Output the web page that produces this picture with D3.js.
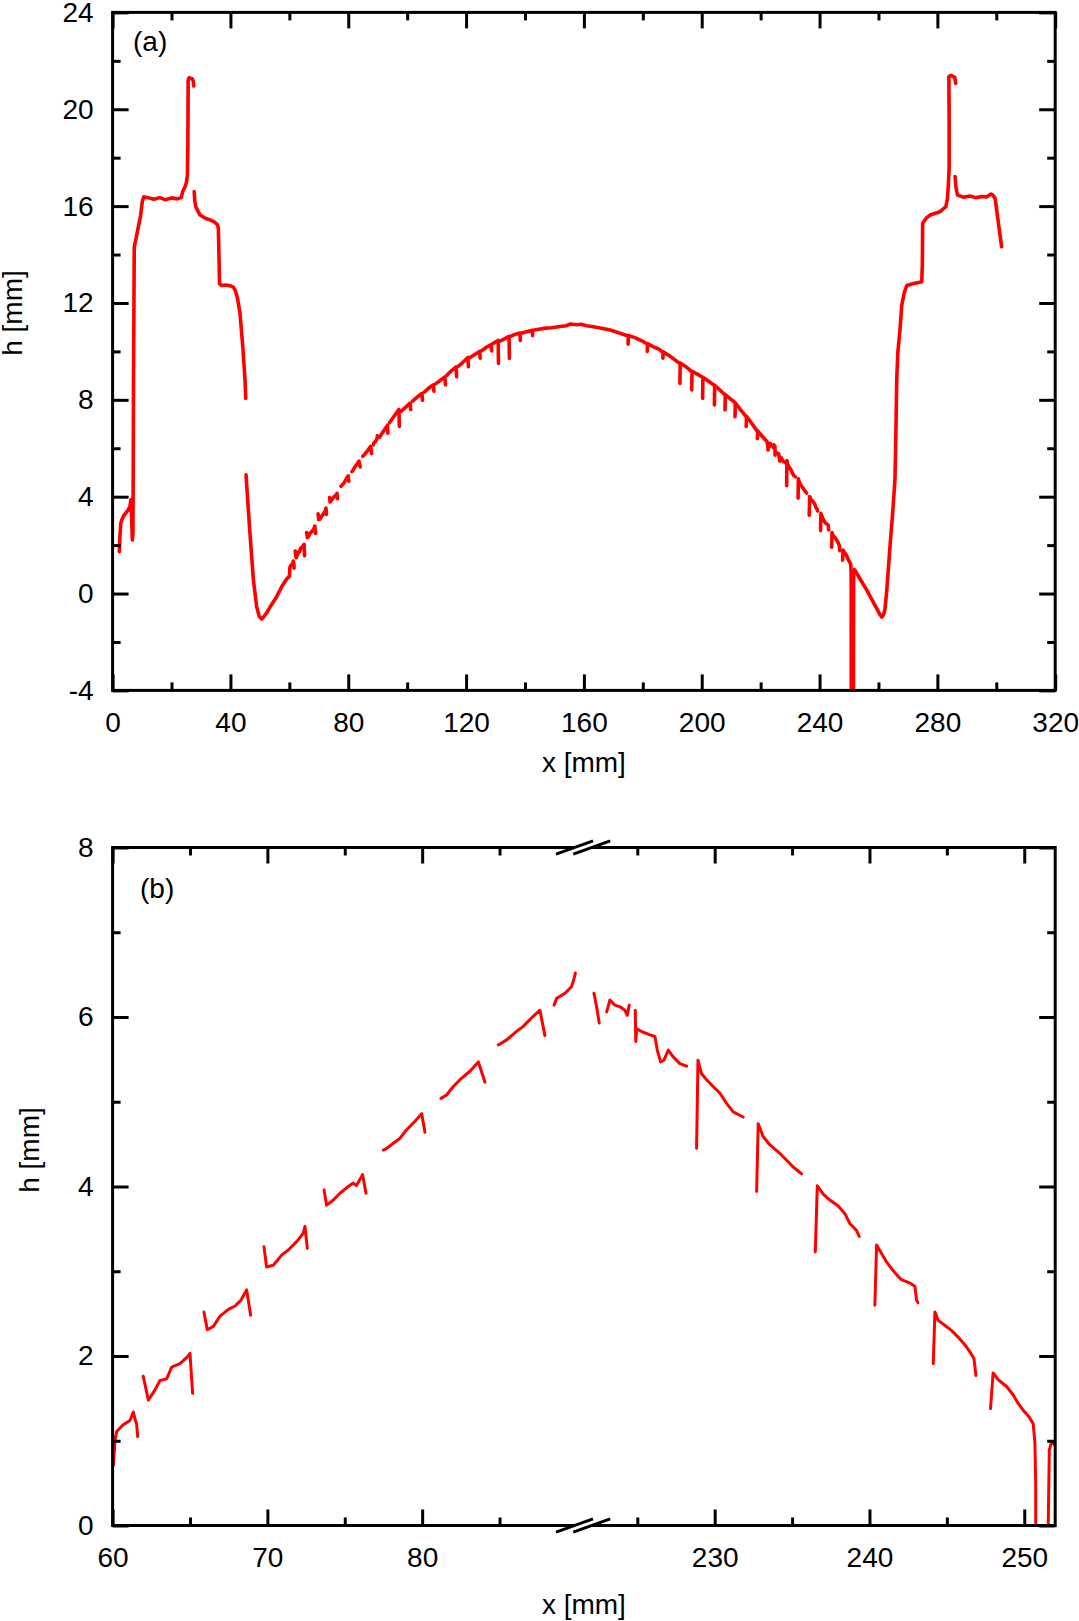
<!DOCTYPE html>
<html>
<head>
<meta charset="utf-8">
<script src="https://cdn.jsdelivr.net/npm/d3@7"></script>
<style>
  body { margin: 0; background: #fff; }
  svg { display: block; }
</style>
</head>
<body>
<div id="chart"></div>
<script>
// Layout
const width = 1079;
const height = 1621;
const frame_left = 112.6;
const frame_right = 1055.2;
const top_a = 12.4, bottom_a = 690.4;
const top_b = 847.5, bottom_b = 1525.5;
const font = "'Liberation Sans', Arial, sans-serif";

// Data: profile h(x) in mm, one array per unbroken piece of the trace

// left rim (x < 60), panel (a) only
const rim_left = [
  [[2.3,1.73],[2.5,2.4],[2.8,2.9],[3.1,3.04],[3.9,3.24],[5.3,3.45],[5.9,3.6],[6.2,3.87],[6.45,3.2],[6.7,2.21],[6.9,2.5],[7.0,5.0],[7.1,8.8],[7.2,10.9],[7.35,14.3],[8.5,15.0],[9.5,15.6],[10.1,16.2],[10.6,16.38],[12,16.35],[14,16.28],[16,16.35],[18,16.26],[20,16.34],[22,16.3],[23.3,16.35],[23.8,16.6],[24.6,16.8],[25.1,17.0],[25.4,17.3],[25.55,18.5],[25.65,21.2],[26.0,21.3],[27.1,21.25],[27.4,21.15],[27.55,20.96]],
  [[27.7,16.6],[27.9,16.2],[28.3,15.95],[28.8,15.84],[29.7,15.63],[31.5,15.5],[33.1,15.43],[34.5,15.35],[35.5,15.25],[35.9,15.1],[36.1,14.0],[36.3,12.8],[37.0,12.72],[38.5,12.74],[40.2,12.7],[41.0,12.65],[41.7,12.5],[42.4,12.2],[43.25,11.57],[44.2,10.19],[44.95,8.82],[45.2,8.06]],
  [[45.3,4.9],[46.5,2.7],[47.8,0.56],[48.9,-0.54],[49.8,-0.95],[50.6,-1.05],[51.4,-0.95],[52.3,-0.8],[54.0,-0.45],[55.7,-0.13],[57.5,0.3],[59.1,0.6],[59.9,0.7]]
];

// rising flank, 60..90 mm (both panels)
const teeth_left = [
  [[60.05,0.71],[60.16,1.01],[60.26,1.11],[60.69,1.19],[61.12,1.24],[61.34,1.34],[61.45,1.25],[61.55,1.2],[61.62,1.05]],
  [[61.98,1.76],[62.31,1.48],[62.74,1.6],[63.06,1.71],[63.49,1.73],[63.82,1.87],[64.35,1.91],[64.83,1.99],[65.0,2.03],[65.17,1.56]],
  [[65.9,2.52],[66.12,2.31],[66.51,2.35],[66.94,2.47],[67.48,2.55],[67.91,2.59],[68.3,2.66],[68.66,2.78],[68.92,2.48]],
  [[69.78,3.29],[69.95,3.05],[70.38,3.07],[70.92,3.19],[71.35,3.25],[71.89,3.35],[72.32,3.45],[72.43,3.53],[72.58,3.27]],
  [[73.66,3.96],[73.83,3.78],[74.26,3.84],[74.69,3.92],[75.23,4.0],[75.55,4.04],[75.75,4.01],[76.15,4.14],[76.37,3.92]],
  [[77.49,4.43],[77.71,4.45],[78.14,4.51],[78.57,4.57],[79.0,4.67],[79.54,4.77],[79.97,4.86],[80.18,4.64]],
  [[81.21,5.04],[81.58,5.08],[82.01,5.18],[82.44,5.26],[83.09,5.36],[83.63,5.47],[84.06,5.23]],
  [[84.92,5.67],[85.46,5.73],[86.1,5.83],[86.53,5.89],[87.07,5.99],[87.61,6.08],[87.93,5.78]],
  [[88.52,6.14],[88.69,6.22],[89.23,6.28],[89.66,6.36],[89.84,6.47],[89.9,6.52]]
];

// crown, 90..222 mm, panel (a) only
const crown = [
  [[90.6,6.45],[91.5,6.62],[92.5,6.8],[93.3,6.95],[93.45,6.62]],
  [[94.0,7.05],[95.3,7.28],[96.5,7.48],[97.2,7.6],[97.35,6.9]],
  [[97.9,7.52],[99.5,7.7],[101.0,7.86],[101.2,7.6]],
  [[101.8,7.95],[103.5,8.12],[105.0,8.27],[105.2,7.98]],
  [[105.8,8.32],[107.5,8.5],[108.9,8.62],[109.1,8.36]],
  [[109.6,8.66],[111.0,8.78],[112.8,8.95],[113.0,8.62]],
  [[113.5,9.02],[115.0,9.2],[116.6,9.36],[116.8,8.96]],
  [[117.3,9.38],[118.5,9.5],[120.6,9.75],[120.8,9.37]],
  [[121.3,9.74],[123.6,9.92],[124.6,10.0],[124.8,9.72]],
  [[125.3,10.03],[127.0,10.18],[128.5,10.28],[128.7,10.02]],
  [[129.2,10.33],[130.9,10.45],[131.0,9.5]],
  [[131.5,10.42],[133.5,10.55],[134.6,10.62],[134.7,9.71]],
  [[135.3,10.63],[136.5,10.7],[138.3,10.76],[138.4,10.45]],
  [[139.0,10.76],[140.6,10.81],[142.5,10.87],[142.6,10.65]],
  [[143.1,10.88],[146.2,10.95],[149.0,10.98],[151.9,11.03],[154.0,11.06],[155.5,11.13],[157.6,11.1],[159.0,11.12],[161.0,11.06],[163.2,11.02],[166.0,10.96],[168.9,10.88],[171.0,10.8],[172.5,10.74],[174.5,10.66]],
  [[175.0,10.3],[175.1,10.66],[177.5,10.56],[180.2,10.4],[181.0,10.34]],
  [[181.5,10.0],[181.6,10.32],[183.5,10.2],[185.8,10.07],[186.3,10.0]],
  [[186.8,9.72],[186.9,9.98],[189.0,9.82],[191.0,9.64],[192.3,9.52]],
  [[192.6,8.68],[192.7,9.52],[194.5,9.38],[196.3,9.2]],
  [[196.6,8.41],[196.7,9.18],[198.5,9.06],[200.0,8.95]],
  [[200.3,8.06],[200.4,8.93],[202.0,8.8],[204.0,8.62]],
  [[204.3,7.79],[204.4,8.6],[206.0,8.42],[207.6,8.24]],
  [[207.9,7.58],[208.0,8.22],[209.5,8.06],[211.0,7.92]],
  [[211.3,7.3],[211.4,7.88],[213.0,7.62],[214.8,7.35]],
  [[215.1,6.9],[215.2,7.32],[217.0,7.02],[218.6,6.75]],
  [[218.9,6.4],[219.0,6.72],[220.5,6.5],[221.8,6.32]]
];

// falling flank, 222..252 mm (both panels)
const teeth_right = [
  [[222.2,6.28],[222.37,6.12],[222.54,5.93]],
  [[223.02,6.06],[223.23,6.2],[223.55,6.14],[223.88,6.12],[224.2,6.08],[224.35,6.02],[224.48,6.14]],
  [[224.87,6.08],[224.9,5.71],[224.96,5.86],[225.38,5.82],[225.82,5.79],[226.14,5.77],[226.29,5.61],[226.51,5.47],[226.72,5.49],[227.0,5.61],[227.32,5.53],[227.75,5.45],[228.19,5.42]],
  [[228.83,4.45],[228.92,5.49],[229.15,5.33],[229.48,5.26],[229.9,5.18],[230.34,5.1],[230.77,4.98],[231.2,4.88],[231.52,4.85],[231.84,4.82]],
  [[232.71,3.94],[232.81,4.74],[233.13,4.59],[233.57,4.49],[234.21,4.39],[234.65,4.31],[235.07,4.23],[235.61,4.15]],
  [[236.5,3.23],[236.63,4.01],[237.01,3.91],[237.44,3.84],[237.98,3.77],[238.41,3.68],[238.74,3.56],[239.17,3.48],[239.34,3.41]],
  [[240.35,2.6],[240.46,3.31],[240.78,3.21],[241.1,3.11],[241.43,3.03],[241.75,2.96],[242.07,2.9],[242.61,2.86],[242.94,2.82],[243.04,2.66],[243.13,2.63]],
  [[244.12,1.91],[244.23,2.52],[244.44,2.42],[244.88,2.36],[245.31,2.3],[245.74,2.22],[246.17,2.13],[246.49,2.05],[246.75,1.97],[246.88,1.77]],
  [[247.82,1.38],[247.99,1.8],[248.32,1.72],[248.86,1.64],[249.29,1.54],[249.61,1.44],[249.93,1.36],[250.32,1.28],[250.58,1.2],[250.69,0.97],[250.74,0.5],[250.76,-4.3]],
  [[251.5,-4.3],[251.55,0.0],[251.62,0.89],[251.77,0.99],[251.98,0.95]]
];

// right rim (x > 252), panel (a) only
const rim_right = [
  [[251.98,0.95],[252.3,0.9],[254.0,0.55],[256.0,0.15],[258.5,-0.42],[260.3,-0.82],[261.1,-0.97],[261.7,-0.88],[262.2,-0.65],[262.8,0.1],[263.9,1.93],[264.8,3.3],[265.6,4.69],[265.9,6.5],[266.2,8.82],[266.6,10.0],[267.3,10.88],[267.9,11.9],[268.7,12.4],[269.6,12.72],[272.0,12.8],[274.7,12.88],[274.9,13.6],[275.0,15.29],[276.2,15.5],[277.5,15.63],[280.9,15.77],[282.9,15.98],[283.4,16.3],[283.7,16.8],[284.0,17.6],[284.0,19.5],[283.9,21.35],[284.6,21.4],[285.9,21.32],[286.2,21.07]],
  [[286.0,17.22],[286.3,16.8],[286.8,16.46],[288.8,16.37],[291.0,16.42],[293.0,16.35],[295.0,16.4],[296.7,16.38],[298.2,16.5],[298.8,16.46],[299.6,16.32],[300.5,15.5],[301.8,14.32]]
];

// Ticks
const a_x_major = [0, 40, 80, 120, 160, 200, 240, 280, 320];
const a_x_minor = [20, 60, 100, 140, 180, 220, 260, 300];
const a_y_major = [-4, 0, 4, 8, 12, 16, 20, 24];
const a_y_minor = [-2, 2, 6, 10, 14, 18, 22];
const b_x_domain_left = [60, 90.4];
const b_x_domain_right = [221.5, 252];
const b_x_major_left = [60, 70, 80];
const b_x_minor_left = [65, 75, 85];
const b_x_major_right = [230, 240, 250];
const b_x_minor_right = [225, 235, 245];
const b_y_major = [0, 2, 4, 6, 8];
const b_y_minor = [1, 3, 5, 7];

// Scales
const x_a = d3.scaleLinear().domain([0, 320]).range([frame_left, frame_right]);
const y_a = d3.scaleLinear().domain([-4, 24]).range([bottom_a, top_a]);

const b_span = (b_x_domain_left[1] - b_x_domain_left[0]) + (b_x_domain_right[1] - b_x_domain_right[0]);
const b_break = frame_left + (b_x_domain_left[1] - b_x_domain_left[0]) / b_span * (frame_right - frame_left);
const x_b_left = d3.scaleLinear().domain(b_x_domain_left).range([frame_left, b_break]);
const x_b_right = d3.scaleLinear().domain(b_x_domain_right).range([b_break, frame_right]);
const x_b = x => x < 150 ? x_b_left(x) : x_b_right(x);  // broken axis, pick the side
const y_b = d3.scaleLinear().domain([0, 8]).range([bottom_b, top_b]);

const svg = d3.select("#chart").append("svg")
  .attr("width", width)
  .attr("height", height)
  .style("font-family", font);

svg.append("rect").attr("width", width).attr("height", height).attr("fill", "#fff");

// clip the trace to each frame
const defs = svg.append("defs");
defs.append("clipPath").attr("id", "clip_a").append("rect")
  .attr("x", frame_left).attr("y", top_a)
  .attr("width", frame_right - frame_left).attr("height", bottom_a - top_a);
defs.append("clipPath").attr("id", "clip_b").append("rect")
  .attr("x", frame_left).attr("y", top_b)
  .attr("width", frame_right - frame_left).attr("height", bottom_b - top_b);

function draw_trace(segments, sx, sy, clip, stroke_width) {
  const line = d3.line().x(d => sx(d[0])).y(d => sy(d[1]));
  svg.append("g")
    .attr("clip-path", `url(#${clip})`)
    .selectAll("path").data(segments).join("path")
      .attr("d", line)
      .attr("fill", "none")
      .attr("stroke", "#ff0000")
      .attr("stroke-width", stroke_width)
      .attr("stroke-linejoin", "round")
      .attr("stroke-linecap", "round");
}

// one set of inward ticks, optionally with labels
function tick_set(axis_fn, scale, values, size, translate, with_labels) {
  const axis = axis_fn(scale)
    .tickValues(values)
    .tickSize(-size)
    .tickPadding(axis_fn === d3.axisLeft ? 19 : 22)
    .tickFormat(with_labels ? (d => String(d)) : "");
  const g = svg.append("g")
    .attr("transform", `translate(${translate[0]},${translate[1]})`)
    .call(axis);
  g.select(".domain").remove();
  g.selectAll(".tick line").attr("stroke", "#000").attr("stroke-width", 3);
  g.selectAll(".tick text")
    .attr("fill", "#000")
    .attr("font-size", 28)
    .attr("font-family", font);
  return g;
}

function frame(y0, y1) {
  svg.append("rect")
    .attr("x", frame_left).attr("y", y0)
    .attr("width", frame_right - frame_left).attr("height", y1 - y0)
    .attr("fill", "none")
    .attr("stroke", "#000")
    .attr("stroke-width", 3);
}

// ---------- panel (a)
draw_trace([...rim_left, ...teeth_left, ...crown, ...teeth_right, ...rim_right], x_a, y_a, "clip_a", 3.6);

tick_set(d3.axisBottom, x_a, a_x_major, 16, [0, bottom_a], true);
tick_set(d3.axisBottom, x_a, a_x_minor, 8, [0, bottom_a], false);
tick_set(d3.axisTop, x_a, a_x_major, 16, [0, top_a], false);
tick_set(d3.axisTop, x_a, a_x_minor, 8, [0, top_a], false);
tick_set(d3.axisLeft, y_a, a_y_major, 16, [frame_left, 0], true);
tick_set(d3.axisLeft, y_a, a_y_minor, 8, [frame_left, 0], false);
tick_set(d3.axisRight, y_a, a_y_major, 16, [frame_right, 0], false);
tick_set(d3.axisRight, y_a, a_y_minor, 8, [frame_right, 0], false);
frame(top_a, bottom_a);

svg.append("text").attr("x", 133).attr("y", 51).attr("font-size", 28).text("(a)");
svg.append("text").attr("x", (frame_left + frame_right) / 2).attr("y", 772)
  .attr("text-anchor", "middle").attr("font-size", 28).text("x [mm]");
svg.append("text").attr("transform", "translate(22,313) rotate(-90)")
  .attr("text-anchor", "middle").attr("font-size", 28).text("h [mm]");

// ---------- panel (b)
draw_trace([...teeth_left, ...teeth_right], x_b, y_b, "clip_b", 3.0);

tick_set(d3.axisBottom, x_b_left, b_x_major_left, 16, [0, bottom_b], true);
tick_set(d3.axisBottom, x_b_left, b_x_minor_left, 8, [0, bottom_b], false);
tick_set(d3.axisBottom, x_b_right, b_x_major_right, 16, [0, bottom_b], true);
tick_set(d3.axisBottom, x_b_right, b_x_minor_right, 8, [0, bottom_b], false);
tick_set(d3.axisTop, x_b_left, b_x_major_left, 16, [0, top_b], false);
tick_set(d3.axisTop, x_b_left, b_x_minor_left, 8, [0, top_b], false);
tick_set(d3.axisTop, x_b_right, b_x_major_right, 16, [0, top_b], false);
tick_set(d3.axisTop, x_b_right, b_x_minor_right, 8, [0, top_b], false);
tick_set(d3.axisLeft, y_b, b_y_major, 16, [frame_left, 0], true);
tick_set(d3.axisLeft, y_b, b_y_minor, 8, [frame_left, 0], false);
tick_set(d3.axisRight, y_b, b_y_major, 16, [frame_right, 0], false);
tick_set(d3.axisRight, y_b, b_y_minor, 8, [frame_right, 0], false);
frame(top_b, bottom_b);

// axis break marks: a white gap between two slashes, top and bottom
[top_b, bottom_b].forEach(y => {
  const dx = 18.5, dy = 6.7, off = 8.6;
  svg.append("polygon")
    .attr("points", [
      [b_break - off - dx, y + dy], [b_break - off + dx, y - dy],
      [b_break + off + dx, y - dy], [b_break + off - dx, y + dy]
    ].map(p => p.join(",")).join(" "))
    .attr("fill", "#fff");
  [-off, off].forEach(o => {
    svg.append("line")
      .attr("x1", b_break + o - dx).attr("y1", y + dy)
      .attr("x2", b_break + o + dx).attr("y2", y - dy)
      .attr("stroke", "#000").attr("stroke-width", 3);
  });
});

svg.append("text").attr("x", 140).attr("y", 898).attr("font-size", 28).text("(b)");
svg.append("text").attr("x", (frame_left + frame_right) / 2).attr("y", 1614)
  .attr("text-anchor", "middle").attr("font-size", 28).text("x [mm]");
svg.append("text").attr("transform", "translate(39,1150) rotate(-90)")
  .attr("text-anchor", "middle").attr("font-size", 28).text("h [mm]");
</script>
</body>
</html>
